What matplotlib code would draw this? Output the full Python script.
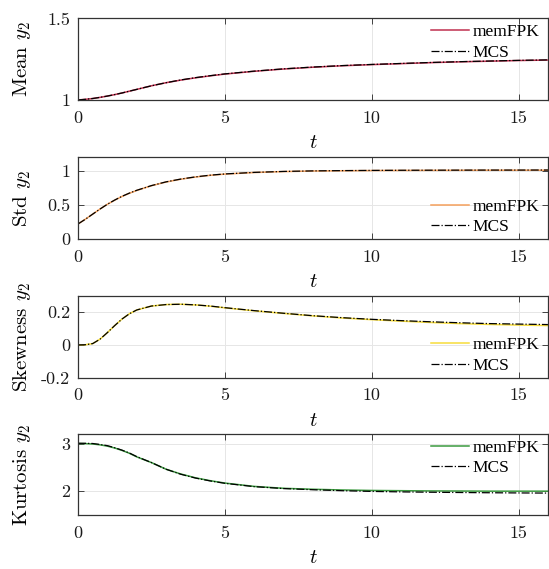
import numpy as np
import matplotlib
matplotlib.use("Agg")
import matplotlib.pyplot as plt

plt.rcParams['font.family'] = 'serif'
plt.rcParams['font.serif'] = ['cmr10']
plt.rcParams['mathtext.fontset'] = 'cm'
plt.rcParams['axes.unicode_minus'] = False

# time grid
t = [0, 0.25, 0.5, 0.75, 1, 1.25, 1.5, 1.75, 2, 2.5, 3, 3.5, 4, 4.5, 5,
     6, 7, 8, 9, 10, 11, 12, 13, 14, 15, 16]

mean_fpk = [1.000, 1.004, 1.009, 1.016, 1.024, 1.033, 1.043, 1.054, 1.065, 1.087,
            1.106, 1.122, 1.136, 1.148, 1.159, 1.176, 1.190, 1.201, 1.210, 1.217,
            1.223, 1.229, 1.234, 1.238, 1.242, 1.245]
mean_mcs = [1.000, 1.004, 1.009, 1.016, 1.024, 1.033, 1.043, 1.054, 1.065, 1.087,
            1.106, 1.123, 1.137, 1.149, 1.160, 1.177, 1.191, 1.202, 1.211, 1.218,
            1.224, 1.230, 1.235, 1.239, 1.243, 1.246]

std_fpk = [0.22, 0.29, 0.365, 0.44, 0.51, 0.57, 0.625, 0.672, 0.713, 0.782,
           0.837, 0.878, 0.910, 0.935, 0.953, 0.976, 0.990, 0.998, 1.002, 1.005,
           1.007, 1.008, 1.009, 1.010, 1.010, 1.010]
std_mcs = [0.22, 0.29, 0.365, 0.44, 0.51, 0.572, 0.627, 0.674, 0.715, 0.784,
           0.839, 0.880, 0.912, 0.937, 0.955, 0.978, 0.992, 1.000, 1.004, 1.007,
           1.009, 1.010, 1.011, 1.012, 1.012, 1.013]

skew_fpk = [0.0, 0.001, 0.008, 0.035, 0.075, 0.118, 0.158, 0.19, 0.213, 0.237,
            0.246, 0.248, 0.244, 0.236, 0.226, 0.208, 0.192, 0.177, 0.164, 0.154,
            0.145, 0.137, 0.130, 0.125, 0.121, 0.118]
skew_mcs = [0.0, 0.001, 0.008, 0.035, 0.075, 0.118, 0.158, 0.19, 0.213, 0.237,
            0.246, 0.248, 0.244, 0.237, 0.227, 0.209, 0.193, 0.178, 0.166, 0.156,
            0.148, 0.141, 0.135, 0.130, 0.127, 0.124]

kurt_fpk = [3.0, 2.998, 2.99, 2.972, 2.945, 2.905, 2.855, 2.795, 2.72, 2.60,
            2.46, 2.36, 2.28, 2.22, 2.17, 2.10, 2.06, 2.04, 2.025, 2.015,
            2.01, 2.005, 2.003, 2.0, 2.0, 2.0]
kurt_mcs = [3.005, 3.004, 3.0, 2.98, 2.955, 2.912, 2.86, 2.80, 2.725, 2.60,
            2.46, 2.355, 2.275, 2.215, 2.165, 2.095, 2.055, 2.03, 2.01, 1.995,
            1.985, 1.978, 1.972, 1.967, 1.963, 1.96]

ylabels = [r'Mean $y_2$', r'Std $y_2$', r'Skewness $y_2$', r'Kurtosis $y_2$']
colors = ['#c0304f', '#f5a05c', '#f7dc3a', '#3a9a3e']
ylims = [(1, 1.5), (0, 1.2), (-0.2, 0.3), (1.5, 3.2)]
yticks = [[1, 1.5], [0, 0.5, 1], [-0.2, 0, 0.2], [2, 3]]
ytick_labels = [['1', '1.5'], ['0', '0.5', '1'], ['-0.2', '0', '0.2'], ['2', '3']]
xticks = [0, 5, 10, 15]
xtick_labels = ['0', '5', '10', '15']
legend_locs = ['upper right', 'lower right', 'lower right', 'upper right']
legend_anchor = [(1, 1.035), (1, -0.06), (1, -0.06), (1, 1.035)]

fpk = [mean_fpk, std_fpk, skew_fpk, kurt_fpk]
mcs = [mean_mcs, std_mcs, skew_mcs, kurt_mcs]

fig = plt.figure(figsize=(5.49, 5.69), dpi=100)
bottoms = [0.8243, 0.580, 0.3362, 0.0949]
heights = [0.1432, 0.1436, 0.1441, 0.1424]

for i in range(4):
    ax = fig.add_axes([0.1421, bottoms[i], 0.856, heights[i]])
    ax.plot(t, fpk[i], '-', color=colors[i], lw=1.1, label='memFPK')
    ax.plot(t, mcs[i], '-.', color='k', lw=0.9, label='MCS')
    ax.set_xlim(0, 16)
    ax.set_ylim(*ylims[i])
    ax.set_xticks(xticks, labels=xtick_labels)
    ax.set_yticks(yticks[i], labels=ytick_labels[i])
    ax.tick_params(direction='in', length=4, width=0.6, top=True, right=True,
                   labelsize=13, color='0.15', labelcolor='0.1', pad=5.5)
    ax.tick_params(axis='x', pad=7.5)
    ax.grid(True, color='0.9', lw=0.7)
    ax.set_axisbelow(True)
    for s in ax.spines.values():
        s.set_color('0.2')
        s.set_linewidth(0.9)
    ax.set_xlabel(r'$t$', fontsize=15, labelpad=6)
    ax.set_ylabel(ylabels[i], fontsize=15)
    ax.yaxis.set_label_coords(-0.095, 0.5)
    ax.legend(loc=legend_locs[i], bbox_to_anchor=legend_anchor[i],
              frameon=False, handlelength=2.2, handletextpad=0.2,
              borderaxespad=0.1, labelspacing=0.25,
              prop={'family': 'Liberation Serif', 'size': 12.5})

fig.savefig('out.png', dpi=100)
